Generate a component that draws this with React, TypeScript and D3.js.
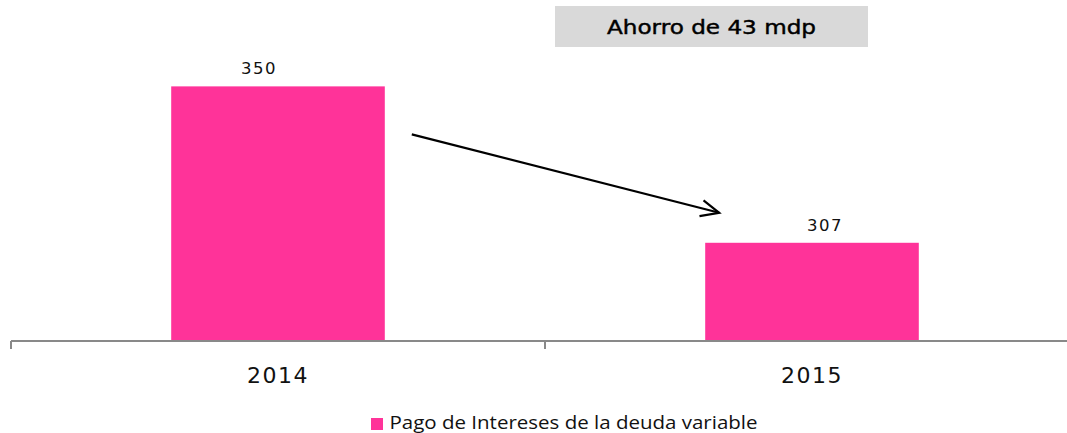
import React from "react";
import * as d3 from "d3";

const categories = ["2014", "2015"];
const values = [350, 307];
const seriesName = "Pago de Intereses de la deuda variable";
const annotation = "Ahorro de 43 mdp";
const yDomain = [280, 360];

const W = 1067;
const H = 433;
const BAR = "#FF3399";
const AXIS = "#898989";
const GEO = "'DejaVu Sans', 'Noto Sans', sans-serif";
const HUM = "'Open Sans', 'Noto Sans', sans-serif";

export default function App() {
  const x = d3.scaleBand<string>().domain(categories).range([11, 1079]).padding(0);
  const y = d3.scaleLinear().domain(yDomain).range([341, 50]);
  const barW = x.bandwidth() * 0.4;
  const cx = (c: string) => (x(c) as number) + x.bandwidth() / 2;
  const labelDx = [-19, 13];

  const b0 = cx(categories[0]) + barW / 2;
  const b1 = cx(categories[1]) - barW / 2;
  const ax1 = b0 + 27, ay1 = y(values[0]) + 48;
  const ax2 = b1 + 14, ay2 = y(values[1]) - 30;
  const ang = Math.atan2(ay2 - ay1, ax2 - ax1);
  const hl = 20, ha = 0.42;
  const h1 = [ax2 - hl * Math.cos(ang - ha), ay2 - hl * Math.sin(ang - ha)];
  const h2 = [ax2 - hl * Math.cos(ang + ha), ay2 - hl * Math.sin(ang + ha)];

  const ticks = [...categories.map((c) => x(c) as number), 1079];

  return (
    <svg width={W} height={H} style={{ position: "absolute", left: 0, top: 0, background: "#fff" }}>
      {categories.map((c, i) => (
        <rect key={c} x={cx(c) - barW / 2} y={y(values[i])} width={barW} height={y(yDomain[0]) - y(values[i])} fill={BAR} />
      ))}
      {categories.map((c, i) => (
        <text key={"l" + c} x={cx(c) + labelDx[i]} y={y(values[i]) - 12} textAnchor="middle" fontFamily={GEO} fontSize={16.5} letterSpacing={1.5} fill="#111">
          {values[i]}
        </text>
      ))}
      <line x1={11} x2={1079} y1={341} y2={341} stroke={AXIS} strokeWidth={2} />
      {ticks.map((t, i) => (
        <line key={"t" + i} x1={t} x2={t} y1={341} y2={349} stroke={AXIS} strokeWidth={2} />
      ))}
      {categories.map((c) => (
        <text key={"c" + c} x={cx(c)} y={383} textAnchor="middle" fontFamily={GEO} fontSize={22} letterSpacing={1.5} fill="#111">
          {c}
        </text>
      ))}
      <line x1={ax1} y1={ay1} x2={ax2} y2={ay2} stroke="#000" strokeWidth={2.2} />
      <polyline points={`${h1[0]},${h1[1]} ${ax2},${ay2} ${h2[0]},${h2[1]}`} fill="none" stroke="#000" strokeWidth={2.2} />
      <rect x={555} y={6} width={313} height={41} fill="#D9D9D9" />
      <text x={607} y={34} fontFamily={GEO} fontSize={20} textLength={209} lengthAdjust="spacingAndGlyphs" fill="#000" stroke="#000" strokeWidth={0.45}>
        {annotation}
      </text>
      <rect x={371} y={418} width={12} height={12} fill={BAR} />
      <text x={389.5} y={429} fontFamily={HUM} fontSize={18.5} textLength={368} lengthAdjust="spacingAndGlyphs" fill="#111">
        {seriesName}
      </text>
    </svg>
  );
}
